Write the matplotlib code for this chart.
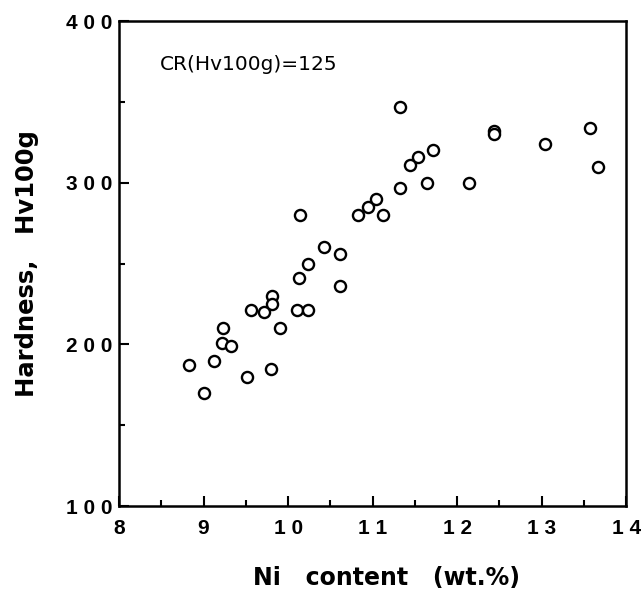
import matplotlib.pyplot as plt
from matplotlib.ticker import MultipleLocator

plt.rcParams['font.family'] = ['Liberation Sans', 'DejaVu Sans']

# Ni content (wt.%) vs hardness (Hv100g)
ni = [8.83, 9.01, 9.12, 9.23, 9.22, 9.33, 9.52, 9.56, 9.71, 9.81, 9.81, 9.80,
      9.91, 10.11, 10.23, 10.13, 10.24, 10.14, 10.42, 10.62, 10.62, 10.83, 10.94,
      11.04, 11.12, 11.32, 11.32, 11.44, 11.54, 11.72, 11.64, 12.14, 12.44, 12.44,
      13.04, 13.57, 13.67]
hv = [187, 170, 190, 210, 201, 199, 180, 221, 220, 230, 225, 185,
      210, 221, 221, 241, 250, 280, 260, 256, 236, 280, 285,
      290, 280, 297, 347, 311, 316, 320, 300, 300, 332, 330,
      324, 334, 310]

x_ticks = [8, 9, 10, 11, 12, 13, 14]
x_labels = ['8', '9', '1 0', '1 1', '1 2', '1 3', '1 4']
y_ticks = [100, 200, 300, 400]
y_labels = ['1 0 0', '2 0 0', '3 0 0', '4 0 0']

fig = plt.figure(figsize=(6.43, 6.01), dpi=100)
ax = fig.add_axes([0.185, 0.158, 0.789, 0.807])

ax.plot(ni, hv, 'o', markersize=8, markerfacecolor='white',
        markeredgecolor='black', markeredgewidth=1.7)

ax.set_xlim(8, 14)
ax.set_ylim(100, 400)
ax.set_xticks(x_ticks)
ax.set_xticklabels(x_labels)
ax.set_yticks(y_ticks)
ax.set_yticklabels(y_labels)
ax.xaxis.set_minor_locator(MultipleLocator(0.5))
ax.yaxis.set_minor_locator(MultipleLocator(50))
ax.tick_params(which='both', direction='in', width=1.5, labelsize=15)
ax.tick_params(which='major', length=7)
ax.tick_params(which='minor', length=4)
ax.tick_params(axis='x', pad=9)
ax.tick_params(axis='y', pad=5)
for lab in ax.get_xticklabels() + ax.get_yticklabels():
    lab.set_fontweight('bold')
for s in ax.spines.values():
    s.set_linewidth(1.8)

ax.set_xlabel('Ni   content   (wt.%)', fontsize=17, fontweight='bold',
              family='DejaVu Sans', va='center')
ax.xaxis.set_label_coords(0.527, -0.148)
ax.set_ylabel('Hardness,   Hv100g', fontsize=17.5, fontweight='bold',
              family='DejaVu Sans', labelpad=19)
ax.text(0.08, 0.91, 'CR(Hv100g)=125', transform=ax.transAxes, fontsize=14.5,
        family='DejaVu Sans', va='center')

plt.savefig('out.png', dpi=100)
